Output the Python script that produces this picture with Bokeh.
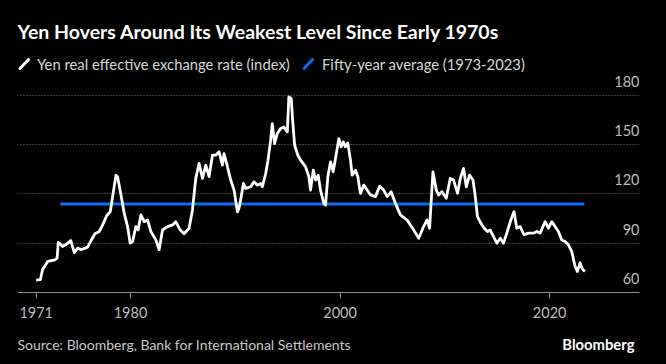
from bokeh.plotting import figure
from bokeh.models import FixedTicker, Range1d
from bokeh.layouts import column
from bokeh.embed import file_html
from bokeh.resources import INLINE
from bokeh.core.properties import value

# ---------------- data ----------------
years = [
    1971.0, 1971.4, 1971.6, 1972.1, 1972.8, 1973.0, 1973.1, 1973.3, 1973.5, 1973.8,
    1974.3, 1974.64, 1974.96, 1975.28, 1975.91, 1976.23, 1976.61, 1977.02, 1977.34, 1977.75,
    1978.07, 1978.29, 1978.61, 1978.77, 1979.09, 1979.40, 1979.72, 1979.97, 1980.2, 1980.51,
    1980.73, 1980.99, 1981.3, 1981.63, 1981.94, 1982.42, 1982.73, 1983.06, 1983.53, 1984.01,
    1984.32, 1984.73, 1985.11, 1985.59, 1985.91, 1986.23, 1986.54, 1986.87, 1987.18, 1987.5,
    1987.82, 1988.13, 1988.45, 1988.77, 1988.92, 1989.25, 1989.56, 1989.88, 1990.2, 1990.35,
    1990.51, 1990.77, 1990.99, 1991.47, 1991.78, 1992.1, 1992.42, 1992.58, 1992.9, 1993.12,
    1993.37, 1993.53, 1993.75, 1994.0, 1994.32, 1994.64, 1994.96, 1995.11, 1995.34, 1995.47,
    1995.66, 1995.97, 1996.23, 1996.7, 1997.02, 1997.18, 1997.44, 1997.66, 1997.91, 1998.13,
    1998.45, 1998.61, 1998.83, 1999.09, 1999.34, 1999.56, 1999.88, 2000.1, 2000.3, 2000.51,
    2000.73, 2000.99, 2001.15, 2001.47, 2001.69, 2001.94, 2002.26, 2002.58, 2002.9, 2003.37,
    2003.78, 2004.16, 2004.49, 2004.87, 2005.28, 2005.75, 2006.39, 2007.02, 2007.5, 2007.97,
    2008.3, 2008.54, 2008.86, 2009.18, 2009.4, 2009.72, 2010.13, 2010.51, 2010.83, 2011.21,
    2011.47, 2011.78, 2012.04, 2012.35, 2012.68, 2012.9, 2013.11, 2013.44, 2013.75, 2014.07,
    2014.32, 2014.64, 2014.96, 2015.28, 2015.59, 2015.91, 2016.29, 2016.6, 2016.86, 2017.18,
    2017.56, 2017.97, 2018.45, 2018.77, 2019.09, 2019.56, 2019.88, 2020.2, 2020.51, 2020.83,
    2021.15, 2021.47, 2021.78, 2022.1, 2022.42, 2022.64, 2022.9, 2023.15, 2023.37,
]
reer = [
    67.5, 67.8, 73.8, 78.9, 79.9, 81.0, 90.4, 89.6, 88.0, 89.0,
    91.6, 84.3, 87.0, 86.0, 87.6, 91.6, 95.7, 97.1, 101.1, 107.0,
    109.1, 118.2, 131.3, 130.3, 119.3, 108.2, 100.1, 90.0, 91.0, 100.1,
    98.1, 107.2, 103.1, 104.1, 97.1, 92.0, 86.0, 98.1, 100.1, 101.1,
    103.1, 98.1, 95.7, 99.1, 110.2, 129.4, 138.5, 129.4, 137.5, 130.5,
    143.5, 143.5, 145.6, 137.5, 144.5, 136.5, 128.4, 122.3, 109.1, 111.1,
    116.2, 126.3, 123.3, 124.3, 127.3, 125.3, 126.3, 124.3, 132.4, 140.5,
    152.6, 162.7, 150.6, 156.7, 159.7, 160.7, 157.7, 178.9, 177.9, 164.7,
    149.6, 143.5, 140.5, 136.5, 130.4, 122.3, 134.4, 128.4, 131.4, 122.3,
    114.2, 113.2, 130.4, 139.5, 133.4, 141.5, 153.6, 148.6, 151.6, 148.6,
    151.0, 140.5, 131.4, 134.4, 130.4, 120.3, 125.3, 122.3, 119.3, 118.3,
    124.7, 122.3, 118.3, 121.3, 114.2, 107.2, 104.1, 98.1, 93.0, 100.1,
    104.1, 99.1, 133.4, 122.3, 119.3, 121.3, 117.3, 129.4, 128.4, 120.3,
    129.4, 135.5, 124.3, 131.4, 128.4, 118.3, 106.2, 102.1, 99.1, 97.1,
    98.1, 94.0, 90.0, 93.0, 90.0, 96.1, 104.1, 109.2, 99.1, 100.1,
    95.1, 96.1, 96.1, 97.1, 96.1, 103.1, 99.1, 103.1, 100.1, 97.1,
    92.0, 91.0, 89.0, 85.0, 75.9, 72.8, 78.0, 74.0, 72.8,
]
avg_years = [1973.3, 2023.3]
avg_level = 113.8

grid_values = [90, 120, 150, 180]
y_label_values = [60, 90, 120, 150, 180]
y_labels = ["60", "90", "120", "150", "180"]
x_ticks = [1971, 1980, 2000, 2020]
x_labels = ["1971", "1980", "2000", "2020"]

title_text = "Yen Hovers Around Its Weakest Level Since Early 1970s"
legend_texts = ["Yen real effective exchange rate (index)", "Fifty-year average (1973-2023)"]
source_text = "Source: Bloomberg, Bank for International Settlements"
brand_text = "Bloomberg"

WHITE = "#ffffff"
BLUE = "#0f6cf8"
FONT = "Lato"
W = 666
LEFT, RIGHT = 17, 27          # borders shared by every figure of the column
HEAD_H, CHART_H, FOOT_H = 74, 252, 38


def canvas(height):
    """Black drawing strip whose x units are page pixels and y grows downward."""
    f = figure(width=W, height=height, x_range=Range1d(LEFT, W - RIGHT), y_range=Range1d(height, 0),
               output_backend="svg", toolbar_location=None,
               x_axis_location=None, y_axis_location=None,
               min_border_left=LEFT, min_border_right=RIGHT, min_border_top=0, min_border_bottom=0,
               background_fill_color="black", border_fill_color="black",
               outline_line_color=None)
    f.grid.visible = False
    return f


# ---------------- header: title + legend ----------------
head = canvas(HEAD_H)
head.text(x=[17], y=[31], text=[title_text], text_font=value(FONT), text_font_style="bold",
          text_font_size="19.5px", text_color=WHITE, text_baseline="alphabetic")
head.segment(x0=[19.5, 303.5], y0=[68, 68], x1=[28, 312], y1=[59, 59],
             line_color=[WHITE, BLUE], line_width=3, line_cap="round")
head.text(x=[36.5, 321.5], y=[63, 63], text=legend_texts, text_font=value(FONT),
          text_font_size="14.8px", text_color="#d8d8d8", text_baseline="alphabetic")

# ---------------- chart ----------------
x_start, x_end = 1969.216, 2028.57
p = figure(
    width=W, height=CHART_H,
    x_range=Range1d(x_start, x_end), y_range=Range1d(60, 192.6),
    output_backend="svg", toolbar_location=None,
    y_axis_location=None,
    min_border_left=LEFT, min_border_right=RIGHT, min_border_top=0, min_border_bottom=34,
    background_fill_color="black", border_fill_color="black",
    outline_line_color=None,
)
p.xgrid.visible = False
p.ygrid.ticker = FixedTicker(ticks=grid_values)
p.ygrid.grid_line_color = "#7a727a"
p.ygrid.grid_line_dash = "1 2"
p.ygrid.grid_line_width = 1

ax = p.xaxis[0]
ax.ticker = FixedTicker(ticks=x_ticks)
ax.major_label_overrides = {t: l for t, l in zip(x_ticks, x_labels)}
ax.axis_line_color = "#8c8c8c"
ax.major_tick_line_color = "#8c8c8c"
ax.major_tick_out = 6
ax.major_tick_in = 0
ax.minor_tick_line_color = None
ax.major_label_text_color = "#bdbdbd"
ax.major_label_text_font = FONT
ax.major_label_text_font_size = "14.5px"
ax.major_label_standoff = 8

p.text(x=[x_end] * len(y_labels), y=y_label_values, text=y_labels,
       text_align="right", text_baseline="alphabetic", y_offset=-14,
       text_color="#bdbdbd", text_font=value(FONT), text_font_size="14.5px")

p.line(avg_years, [avg_level] * len(avg_years), line_color=BLUE, line_width=3)
p.line(years, reer, line_color=WHITE, line_width=2.8, line_join="round")

# ---------------- footer: source + brand ----------------
foot = canvas(FOOT_H)
foot.text(x=[17], y=[18], text=[source_text], text_font=value(FONT),
          text_font_size="14px", text_color="#c8c8c8", text_baseline="alphabetic")
foot.text(x=[634], y=[17.5], text=[brand_text], text_font=value(FONT), text_font_style="bold",
          text_font_size="14.8px", text_color=WHITE, text_baseline="alphabetic", text_align="right")

layout = column(head, p, foot, spacing=0)
html = file_html(layout, INLINE)
html = html.replace("<head>", "<head><style>html,body{background:#000000;}</style>", 1)
open("out.html", "w").write(html)
